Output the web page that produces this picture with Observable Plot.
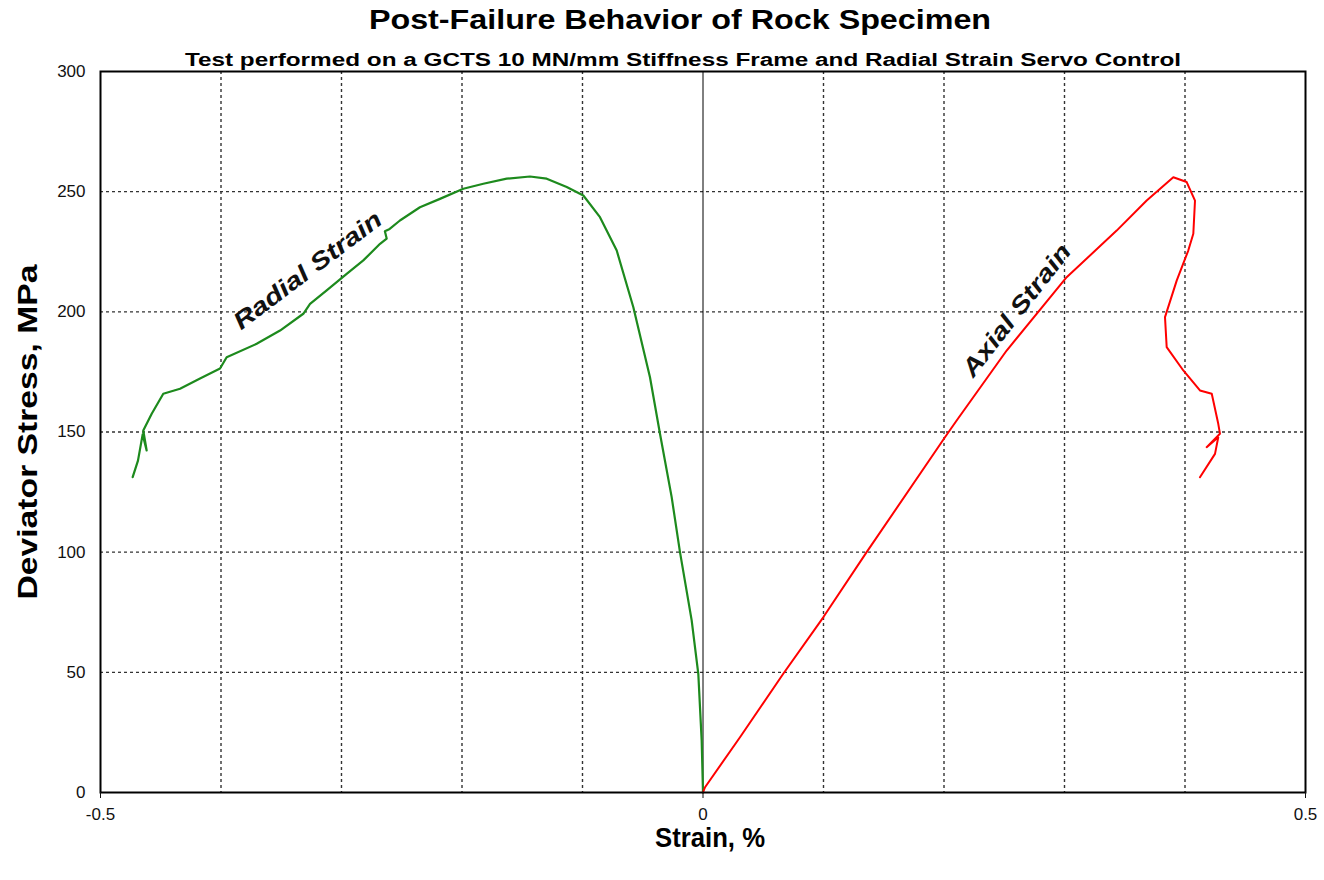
<!DOCTYPE html>
<html>
<head>
<meta charset="utf-8">
<script src="https://cdn.jsdelivr.net/npm/d3@7"></script>
<script src="https://cdn.jsdelivr.net/npm/@observablehq/plot@0.6"></script>
<style>
  html, body { margin: 0; padding: 0; background: white; }
  #wrap { width: 1324px; height: 880px; position: relative; font-family: "Liberation Sans", Arial, sans-serif; }
  #head { position: relative; height: 62px; }
  #title { position: absolute; left: 0; width: 1360px; top: 7px; text-align: center; font-size: 27px; line-height: 27px; font-weight: bold; color: #000; transform: scaleX(1.195); transform-origin: 680px 0; }
  #subtitle { position: absolute; left: 0; width: 1366px; top: 51px; text-align: center; font-size: 18px; line-height: 18px; font-weight: bold; color: #000; transform: scaleX(1.35); transform-origin: 683px 0; }
  #chart svg { display: block; }
</style>
</head>
<body>
<div id="wrap">
  <div id="head">
    <div id="title">Post-Failure Behavior of Rock Specimen</div>
    <div id="subtitle">Test performed on a GCTS 10 MN/mm Stiffness Frame and Radial Strain Servo Control</div>
  </div>
  <div id="chart"></div>
</div>
<script>
// Radial strain curve (green), from origin through peak into post-failure
const radialStrain = [0, -0.0011, -0.0039, -0.0094, -0.0191, -0.0260, -0.0357, -0.0440, -0.0578, -0.0716,
  -0.0855, -0.0993, -0.1131, -0.1297, -0.1436, -0.1629, -0.1823, -0.1989, -0.2183, -0.2349,
  -0.2515, -0.2600, -0.2640, -0.2625, -0.2680, -0.2819, -0.2957, -0.3123, -0.3261, -0.3317,
  -0.3510, -0.3704, -0.3953, -0.4008, -0.4174, -0.4340, -0.4479, -0.4575, -0.4645, -0.4617,
  -0.4650, -0.4689, -0.4733];
const radialStress = [0, 21.6, 49.4, 71.6, 100.0, 122.9, 149.3, 172.8, 201.9, 225.5,
  239.4, 248.4, 251.9, 255.4, 256.3, 255.4, 253.3, 251.2, 247.0, 243.5,
  238.0, 234.5, 233.5, 230.5, 228.3, 221.4, 215.8, 208.9, 203.3, 199.2,
  192.2, 186.7, 181.1, 176.4, 172.3, 168.0, 165.9, 157.6, 150.6, 142.3,
  149.0, 138.1, 131.2];

// Axial strain curve (red)
const axialStrain = [0, 0.0017, 0.0307, 0.0666, 0.0998, 0.1358, 0.2008, 0.2105, 0.2520, 0.3018,
  0.3433, 0.3682, 0.3903, 0.4014, 0.4083, 0.4069, 0.4027, 0.3931, 0.3834, 0.3848,
  0.3986, 0.4124, 0.4222, 0.4276, 0.4290, 0.4180, 0.4276, 0.4249, 0.4124];
const axialStress = [0, 2.2, 23.0, 49.4, 72.9, 100.0, 147.8, 154.8, 183.9, 214.4,
  233.8, 246.3, 256.0, 254.0, 246.3, 232.5, 225.5, 213.0, 197.8, 185.3,
  175.6, 167.3, 165.9, 153.4, 149.3, 143.7, 147.8, 140.9, 131.2];

const xTicks = [-0.5, 0, 0.5];
const yTicks = [0, 50, 100, 150, 200, 250, 300];
const xGrid = [-0.4, -0.3, -0.2, -0.1, 0.1, 0.2, 0.3, 0.4];
const yGrid = [50, 100, 150, 200, 250];

const curveNames = ["Radial Strain", "Axial Strain"];
const curveLabelX = [-0.328, 0.2603];
const curveLabelY = [217.2, 200.6];
const curveLabelAngle = [-37, -52];

const radial = radialStrain.map((s, i) => ({strain: s, stress: radialStress[i]}));
const axial = axialStrain.map((s, i) => ({strain: s, stress: axialStress[i]}));
const labels = curveNames.map((n, i) => ({name: n, x: curveLabelX[i], y: curveLabelY[i], a: curveLabelAngle[i]}));

const grid = {stroke: "#333", strokeDasharray: "3,3", strokeWidth: 1.4, strokeOpacity: 1};

const chart = Plot.plot({
  width: 1324,
  height: 818,
  marginTop: 9,
  marginBottom: 88,
  marginLeft: 100,
  marginRight: 19,
  x: {domain: [-0.5, 0.5]},
  y: {domain: [0, 300]},
  style: {fontFamily: "'Liberation Sans', Arial, sans-serif", background: "white", color: "#111"},
  marks: [
    Plot.ruleX(xGrid, grid),
    Plot.ruleY(yGrid, grid),
    Plot.ruleX([0], {stroke: "black", strokeWidth: 1}),
    Plot.line(radial, {x: "strain", y: "stress", stroke: "#1d8a1d", strokeWidth: 2.2}),
    Plot.line(axial, {x: "strain", y: "stress", stroke: "#ff0000", strokeWidth: 2}),
    Plot.frame({stroke: "black", strokeWidth: 2}),
    Plot.axisX(xTicks, {tickFormat: d => String(d), tickSize: 6, tickPadding: 9, fontSize: 17, label: null}),
    Plot.axisY(yTicks, {tickSize: 0, tickPadding: 15, fontSize: 17, label: null}),
    Plot.text(labels, {x: "x", y: "y", text: "name", rotate: d => d.a, fontSize: 24, fontWeight: "bold", fontStyle: "italic", fill: "#111"}),
    Plot.text(["Deviator Stress, MPa"], {frameAnchor: "left", dx: -72, rotate: -90, textAnchor: "middle", lineAnchor: "middle", fontSize: 28, fontWeight: "bold", fill: "#000"}),
    Plot.text(["Strain, %"], {frameAnchor: "bottom", dx: 7, dy: 46, textAnchor: "middle", lineAnchor: "middle", fontSize: 27, fontWeight: "bold", fill: "#000"})
  ]
});
document.getElementById("chart").appendChild(chart);

// stretch text lengths to match the reference's wide lettering
const textLengths = {"Deviator Stress, MPa": 335, "Strain, %": 110, "Radial Strain": 179, "Axial Strain": 161};
d3.select(chart).selectAll("text").each(function() {
  const L = textLengths[this.textContent];
  if (L) d3.select(this).attr("textLength", L).attr("lengthAdjust", "spacingAndGlyphs");
});
</script>
</body>
</html>
